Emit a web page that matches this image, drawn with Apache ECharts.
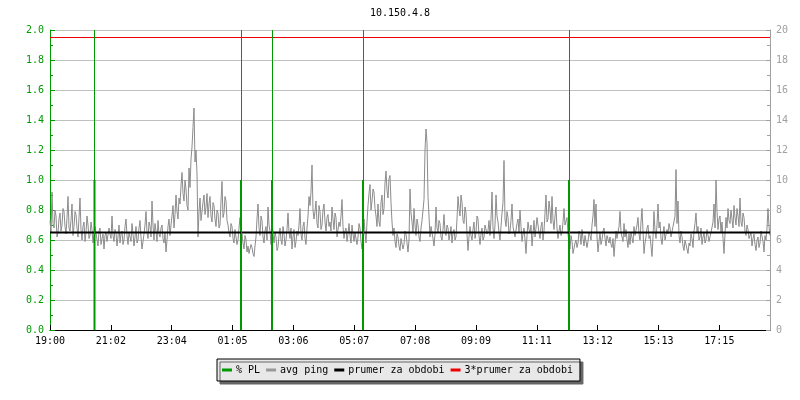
<!DOCTYPE html>
<html>
<head>
<meta charset="utf-8">
<script src="https://cdn.jsdelivr.net/npm/echarts@6/dist/echarts.min.js"></script>
<style>html,body{margin:0;padding:0;background:#fff}#c{width:800px;height:400px}</style>
</head>
<body>
<div id="c"></div>
<script>
// ---- data ----
const titleText = '10.150.4.8';
const timeLabels = ['19:00','21:02','23:04','01:05','03:06','05:07','07:08','09:09','11:11','13:12','15:13','17:15'];
const tickStepMin = 121.7;      // minutes between time labels
const spanMin = 1440;           // minutes shown
const sampleStepMin = 2;        // minutes between ping samples
const pingValues = [
7.3,6.5,9.2,7.1,6.8,8.0,7.6,6.2,6.5,7.4,7.8,6.6,7.0,8.1,7.9,6.9,6.4,7.5,8.9,6.8,
6.6,7.3,8.4,6.3,6.9,7.9,7.7,6.8,6.2,7.5,8.8,6.7,6.0,6.9,7.2,5.9,6.5,7.6,7.0,6.1,
6.3,7.2,6.7,5.8,5.9,6.9,6.5,6.0,5.6,6.6,6.8,5.7,6.1,6.4,5.4,6.3,6.5,5.9,6.0,6.8,
6.4,6.1,7.6,6.3,5.9,6.7,6.5,5.6,6.2,7.0,5.8,6.4,6.6,5.7,6.0,6.9,7.4,6.3,5.7,6.5,
6.6,5.9,7.1,6.4,5.6,6.2,6.9,5.8,6.0,6.8,7.3,6.2,5.4,5.9,6.4,7.0,7.9,6.5,6.1,7.2,
6.9,6.2,8.6,7.0,6.0,7.1,6.6,5.9,7.3,6.4,6.2,6.8,7.0,6.1,5.8,6.5,5.2,6.0,6.9,7.4,
6.3,7.0,7.6,8.3,6.8,7.7,9.0,7.9,7.4,8.8,8.4,9.6,10.5,9.1,8.6,10.0,9.4,8.3,8.0,10.8,
9.5,11.4,12.2,13.5,14.8,11.2,12.0,10.4,6.2,7.9,8.8,7.3,7.4,8.5,9.0,7.7,8.2,9.1,7.5,8.4,
8.9,7.6,7.2,8.5,8.3,7.4,6.9,8.0,7.8,6.8,7.0,8.6,9.9,7.5,7.8,8.9,8.6,7.3,7.0,6.5,
6.2,7.1,6.9,6.1,5.8,6.7,6.6,5.7,6.0,6.8,7.5,6.0,6.4,5.8,5.4,6.3,6.0,5.2,5.6,5.1,
5.0,5.7,5.5,5.1,4.9,5.6,6.2,7.4,8.4,6.8,6.3,7.6,7.3,6.2,5.8,6.6,6.9,6.0,8.2,7.0,
6.6,5.7,7.5,6.4,5.8,6.5,6.2,5.3,5.5,6.3,6.8,6.0,5.7,6.9,6.4,5.6,6.0,6.7,7.8,6.5,
6.1,6.8,5.4,6.2,6.7,5.5,5.9,6.6,6.3,7.0,8.1,6.4,6.0,6.9,7.2,6.1,5.7,6.8,7.6,8.9,
8.3,9.2,11.0,8.0,7.4,7.9,8.6,7.1,6.8,8.3,7.9,6.7,7.0,8.0,8.4,7.2,6.6,7.5,7.7,6.9,
7.2,6.6,8.2,7.4,6.7,7.8,7.5,6.2,6.3,7.2,6.9,7.6,8.7,6.9,6.1,6.6,6.8,5.9,6.4,7.1,
6.3,5.8,7.0,6.4,5.9,6.5,6.6,5.7,6.2,7.1,6.8,5.9,5.4,6.1,7.4,6.5,5.8,7.2,8.3,9.1,
9.7,8.0,8.6,9.4,9.2,8.1,7.6,6.9,8.4,7.2,6.9,8.5,9.0,7.7,8.1,9.8,10.6,9.3,8.8,10.1,
10.3,8.5,7.2,6.3,6.8,5.9,5.5,6.4,6.2,5.6,5.3,6.1,6.0,5.4,5.7,6.6,6.4,5.8,5.2,6.0,
9.4,7.8,7.2,6.5,8.1,7.0,6.3,7.4,7.0,6.2,5.9,6.8,7.3,8.0,8.7,12.0,13.4,12.5,8.9,7.6,
6.2,6.9,7.0,6.1,5.6,6.4,8.2,6.8,6.5,7.3,7.1,6.2,6.0,6.7,7.7,6.5,6.3,7.0,6.8,6.0,
6.4,6.9,5.8,6.5,6.7,6.0,6.2,7.4,8.9,8.1,7.6,9.0,8.5,7.3,7.1,8.2,7.8,6.4,5.3,6.2,
6.9,6.3,6.0,6.7,7.2,6.1,6.5,7.6,7.4,6.3,5.7,6.4,6.8,6.0,6.2,7.0,7.1,6.4,6.6,7.3,
6.3,7.4,9.2,6.8,6.1,7.0,9.0,7.6,7.2,6.5,6.0,6.9,7.8,8.5,11.3,7.4,6.9,7.9,7.5,6.4,
6.6,7.3,8.4,6.9,7.0,6.2,6.3,7.1,7.4,6.5,8.0,6.9,5.9,6.4,6.8,6.0,5.1,6.3,7.2,6.7,
6.5,7.0,5.6,6.4,7.3,6.2,6.8,7.5,7.6,6.5,6.1,6.9,7.2,6.0,6.6,7.8,9.0,7.2,7.4,8.6,
8.0,7.1,8.9,7.3,6.7,7.6,8.2,6.8,6.1,6.6,7.0,6.3,6.5,7.2,8.1,7.0,6.9,7.5,6.4,5.8,
5.4,6.3,5.9,5.1,5.2,5.8,6.0,5.5,5.8,6.6,6.4,5.7,6.7,6.1,5.6,6.3,6.2,5.5,5.9,6.5,
6.3,6.0,7.0,7.6,8.7,6.9,8.4,6.2,5.2,5.9,6.5,5.7,6.0,6.6,6.8,6.1,5.6,6.3,6.4,5.8,
6.2,5.7,5.5,6.1,4.9,5.8,6.6,6.1,6.0,6.9,7.9,6.5,6.4,5.9,7.1,6.2,6.7,6.0,5.5,6.4,
5.7,6.5,6.4,5.8,6.9,6.3,6.2,7.0,7.5,6.4,6.0,7.2,8.1,6.6,5.1,5.8,6.2,6.8,7.0,6.1,
6.3,5.6,4.9,6.2,7.9,6.6,6.1,7.0,8.4,6.8,7.2,6.1,5.7,6.4,6.9,6.0,5.9,6.7,6.4,7.1,
6.8,6.2,6.1,6.9,7.0,7.6,10.7,7.1,8.6,6.3,5.8,6.6,6.2,5.6,5.3,6.0,5.9,5.4,5.1,5.8,
5.6,6.4,6.1,5.5,6.6,7.1,7.8,6.5,6.9,6.0,6.2,6.8,5.7,6.2,6.5,5.8,6.0,6.7,6.3,5.9,
6.0,6.5,6.6,7.2,8.4,6.8,10.0,7.9,6.7,7.4,7.6,6.5,7.2,6.1,5.1,6.4,7.5,6.8,8.1,7.3,
7.1,8.0,7.9,6.8,8.3,7.5,7.0,8.1,7.6,6.9,8.8,7.2,6.9,7.8,7.5,6.6,6.3,7.0,6.7,6.1,
6.0,6.5,5.6,6.1,6.4,5.7,5.3,6.0,6.2,5.5,5.8,6.6,6.5,5.9,5.2,6.3,6.0,6.8,8.1,6.9,6.3
];
const plTimes = [89, 382, 444, 626, 1038];   // minutes from 19:00
const plValues = [1.0, 1.0, 1.0, 1.0, 1.0];   // % packet loss
const meanPing = 6.5;
const leftTicks = {min: 0, max: 2, step: 0.2};
const rightTicks = {min: 0, max: 20, step: 2};

// ---- chart ----
const FONT = "'DejaVu Sans Mono', monospace";
const GREEN = '#009900';
const chart = echarts.init(document.getElementById('c'), null, {renderer: 'canvas'});
chart.setOption({
  animation: false,
  backgroundColor: '#ffffff',
  title: {
    text: titleText, left: 'center', top: 8, padding: 0,
    textStyle: {fontFamily: FONT, fontSize: 10, fontWeight: 'normal', color: '#000'}
  },
  legend: {
    data: ['% PL', 'avg ping', 'prumer za obdobi', '3*prumer za obdobi'],
    left: 217, top: 359,
    padding: [6, 7, 6, 5],
    itemGap: 6, itemWidth: 10, itemHeight: 3, icon: 'rect',
    backgroundColor: '#e8e8e8', borderColor: '#000', borderWidth: 1,
    shadowColor: '#666', shadowOffsetX: 3, shadowOffsetY: 3, shadowBlur: 0,
    textStyle: {fontFamily: FONT, fontSize: 10, color: '#000', padding: [0, 0, 0, -1]}
  },
  grid: {left: 50, right: 30, top: 30, bottom: 70, containLabel: false},
  xAxis: {
    type: 'value', min: 0, max: spanMin, interval: tickStepMin,
    axisLine: {lineStyle: {color: '#000', width: 1}},
    axisTick: {inside: true, length: 5, lineStyle: {color: '#000'}},
    axisLabel: {
      fontFamily: FONT, fontSize: 10, color: '#000', margin: 6,
      showMaxLabel: false,
      formatter: v => { const i = Math.round(v / tickStepMin); return timeLabels[i] || ''; }
    },
    splitLine: {show: false}
  },
  yAxis: [
    {
      type: 'value', position: 'left', min: leftTicks.min, max: leftTicks.max, interval: leftTicks.step,
      axisLine: {show: true, lineStyle: {color: GREEN, width: 1}},
      axisTick: {show: true, inside: true, length: 5, lineStyle: {color: GREEN}},
      minorTick: {show: true, splitNumber: 2, length: 3, lineStyle: {color: GREEN}},
      axisLabel: {fontFamily: FONT, fontSize: 10, color: GREEN, margin: 6, formatter: v => v.toFixed(1)},
      splitLine: {show: true, lineStyle: {color: '#c0c0c0', width: 1}}
    },
    {
      type: 'value', position: 'right', min: rightTicks.min, max: rightTicks.max, interval: rightTicks.step,
      axisLine: {show: true, lineStyle: {color: '#a0a0a0', width: 1}},
      axisTick: {show: true, inside: true, length: 4, lineStyle: {color: '#a0a0a0'}},
      minorTick: {show: true, splitNumber: 2, length: 3, lineStyle: {color: '#a0a0a0'}},
      axisLabel: {fontFamily: FONT, fontSize: 10, color: '#a0a0a0', margin: 6},
      splitLine: {show: false}
    }
  ],
  series: [
    {
      name: 'avg ping', type: 'line', yAxisIndex: 1, z: 2,
      data: pingValues.map((v, i) => [i * sampleStepMin, v]),
      showSymbol: false, symbol: 'none',
      lineStyle: {color: '#8c8c8c', width: 1}, itemStyle: {color: '#999999'}
    },
    {
      name: '% PL', type: 'bar', yAxisIndex: 0, z: 3,
      data: plTimes.map((t, i) => [t, plValues[i]]),
      barWidth: 2, itemStyle: {color: GREEN},
      markLine: {
        silent: true, symbol: ['none', 'none'], label: {show: false},
        lineStyle: {color: GREEN, width: 1, type: 'solid'},
        data: plTimes.map(t => ({xAxis: t}))
      }
    },
    {
      name: 'prumer za obdobi', type: 'line', yAxisIndex: 1, z: 4,
      data: [[0, meanPing], [spanMin, meanPing]],
      showSymbol: false, symbol: 'none',
      lineStyle: {color: '#000', width: 2}, itemStyle: {color: '#000'}
    },
    {
      name: '3*prumer za obdobi', type: 'line', yAxisIndex: 1, z: 4,
      data: [[0, 3 * meanPing], [spanMin, 3 * meanPing]],
      showSymbol: false, symbol: 'none',
      lineStyle: {color: '#ee0000', width: 1}, itemStyle: {color: '#ee0000'}
    }
  ]
});
</script>
</body>
</html>
